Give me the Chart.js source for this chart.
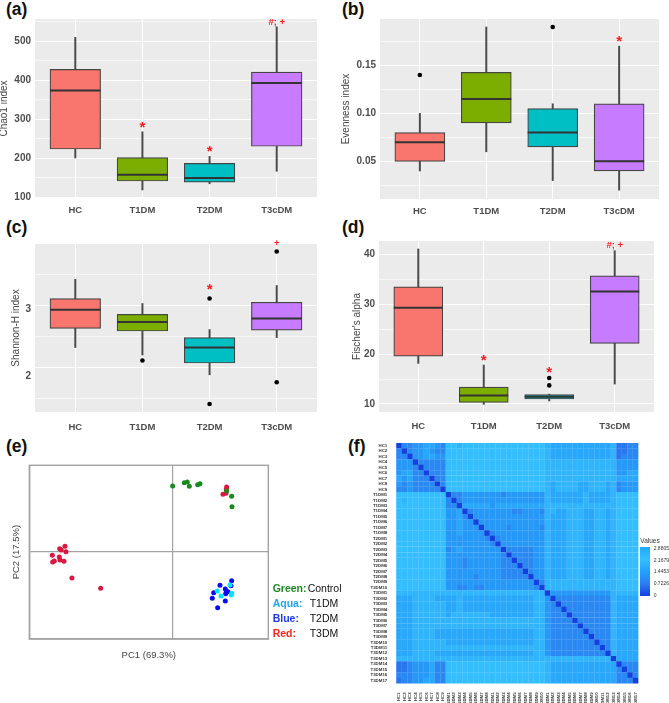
<!DOCTYPE html>
<html>
<head>
<meta charset="utf-8">
<title>Alpha diversity, PCoA and distance heatmap</title>
<script src="https://cdn.jsdelivr.net/npm/chart.js@4"></script>
<style>
  html, body { margin: 0; padding: 0; background: #fff; }
  body { position: relative; width: 669px; height: 703px; overflow: hidden; font-family: "Liberation Sans", Arial, sans-serif; filter: blur(0.3px); }
  .holder { position: absolute; }
  .letter { position: absolute; font-weight: bold; font-size: 17.5px; line-height: 20px; color: #111; }
  .key { position: absolute; font-size: 10.5px; line-height: 12px; color: #111; white-space: nowrap; }
  .key b { position: absolute; left: 0; top: 0; }
  .bar-label { position: absolute; left: 653.7px; font-size: 5px; line-height: 6px; color: #333; }
</style>
</head>
<body>
<div class="letter" style="left:6px;top:-1px">(a)</div>
<div class="letter" style="left:342px;top:-1px">(b)</div>
<div class="letter" style="left:6px;top:217px">(c)</div>
<div class="letter" style="left:342px;top:217px">(d)</div>
<div class="letter" style="left:6px;top:436px">(e)</div>
<div class="letter" style="left:348px;top:436px">(f)</div>

<div class="holder" style="left:0;top:9px;width:335px;height:212px"><canvas id="chartA"></canvas></div>
<div class="holder" style="left:335px;top:9px;width:334px;height:212px"><canvas id="chartB"></canvas></div>
<div class="holder" style="left:0;top:234px;width:335px;height:198px"><canvas id="chartC"></canvas></div>
<div class="holder" style="left:335px;top:231px;width:334px;height:201px"><canvas id="chartD"></canvas></div>
<div class="holder" style="left:0;top:455px;width:280px;height:210px"><canvas id="chartE"></canvas></div>
<div class="holder" style="left:350px;top:436px;width:296px;height:267px"><canvas id="chartF"></canvas></div>

<div class="key" style="left:272.7px;top:582px"><b style="color:#1a8a1f">Green:</b><span style="margin-left:35px">Control</span></div>
<div class="key" style="left:272.7px;top:597px"><b style="color:#1ea7f5">Aqua:</b><span style="margin-left:37px">T1DM</span></div>
<div class="key" style="left:272.7px;top:611.7px"><b style="color:#1b3bf0">Blue:</b><span style="margin-left:37px">T2DM</span></div>
<div class="key" style="left:272.7px;top:626.7px"><b style="color:#f02a1a">Red:</b><span style="margin-left:37px">T3DM</span></div>

<div style="position:absolute;left:640.3px;top:536.5px;font-size:6.5px;line-height:8px;color:#333">Values</div>
<div id="colorbar" style="position:absolute;left:640.3px;top:546.7px;width:10px;height:49.6px"></div>
<div class="bar-label" style="top:544.7px">2.8805</div>
<div class="bar-label" style="top:556.7px">2.1679</div>
<div class="bar-label" style="top:568.3px">1.4453</div>
<div class="bar-label" style="top:580px">0.7226</div>
<div class="bar-label" style="top:592px">0</div>

<script>
// Boxplot groups, shared by panels a-d
const groups = ['HC', 'T1DM', 'T2DM', 'T3cDM'];

// (a) Chao1
const chaoLow = [201, 119, 135, 167];
const chaoQ1 = [224, 142, 139, 231];
const chaoMed = [374, 158, 150, 393];
const chaoQ3 = [428, 202, 187, 421];
const chaoHigh = [510, 268, 205, 537];
const chaoTicks = [100, 150, 200, 250, 300, 350, 400, 450, 500, 550];
const chaoLabels = [100, 200, 300, 400, 500];

// (b) Evenness
const evenLow = [0.04, 0.06, 0.03, 0.02];
const evenQ1 = [0.05, 0.09, 0.065, 0.04];
const evenMed = [0.07, 0.115, 0.08, 0.05];
const evenQ3 = [0.08, 0.1427, 0.105, 0.11];
const evenHigh = [0.10, 0.19, 0.11, 0.17];
const evenOutX = [1, 3];
const evenOutY = [0.14, 0.19];
const evenTicks = [0.025, 0.05, 0.075, 0.10, 0.125, 0.15, 0.175];
const evenLabels = [0.05, 0.10, 0.15];

// (c) Shannon-H
const shanLow = [2.32, 2.20, 1.88, 2.48];
const shanQ1 = [2.63, 2.586, 2.07, 2.60];
const shanMed = [2.93, 2.73, 2.32, 2.79];
const shanQ3 = [3.11, 2.855, 2.48, 3.05];
const shanHigh = [3.42, 3.03, 2.61, 3.32];
const shanOutX = [2, 3, 3, 4, 4];
const shanOutY = [2.11, 3.11, 1.41, 3.87, 1.76];
const shanTicks = [1.5, 2, 2.5, 3, 3.5];
const shanLabels = [2, 3];

// (d) Fischer's alpha
const fishLow = [18.13, 9.93, 10.6, 14];
const fishQ1 = [19.6, 10.33, 11, 22.13];
const fishMed = [29.27, 11.73, 11.47, 32.53];
const fishQ3 = [33.47, 13.4, 11.87, 35.67];
const fishHigh = [41.07, 17.8, 12, 40.73];
const fishOutX = [3, 3];
const fishOutY = [15.2, 13.73];
const fishTicks = [10, 15, 20, 25, 30, 35, 40];
const fishLabels = [10, 20, 30, 40];

const boxColors = ['#f8766d', '#7cae00', '#00bfc4', '#c77cff'];

// red significance marks: x group, y value, text
const chaoMarks = [[2, 286, '*'], [3, 225, '*'], [4, 548.6, '#; +']];
const evenMarks = [[4, 0.178, '*']];
const shanMarks = [[3, 3.30, '*'], [4, 3.995, '+']];
const fishMarks = [[2, 19.27, '*'], [3, 16.87, '*'], [4, 41.73, '#; +']];

// (e) PCoA scores
const controlX = [0, 0.35, 0.44, 0.50, 0.75, 0.82, 1.77, 1.78, 1.62];
const controlY = [1.98, 2.08, 2.10, 1.97, 2.02, 2.05, 1.67, 1.36, 1.83];
const t1dmX = [1.34, 1.45, 1.77, 1.76, 1.72];
const t1dmY = [-1.17, -1.32, -1.24, -1.29, -0.99];
const t2dmX = [1.77, 1.42, 1.75, 1.58, 1.23, 1.62, 1.66, 1.59, 1.19, 1.58, 1.35];
const t2dmY = [-0.86, -1.00, -1.01, -1.11, -1.22, -1.19, -1.19, -1.25, -1.39, -1.47, -1.67];
const t3dmX = [1.62, 1.61, 1.51, 1.60, -3.23, -3.39, -3.34, -3.20, -3.61, -3.40, -3.38, -3.55, -3.60, -3.26, -3.02, -2.16];
const t3dmY = [1.95, 1.88, 1.73, 1.76, 0.17, 0.10, 0.06, 0.01, -0.10, -0.15, -0.24, -0.27, -0.30, -0.28, -0.78, -1.09];

// (f) distance matrix, one digit per cell in steps of heatStep
const heatNames = ['HC1','HC2','HC3','HC4','HC5','HC6','HC7','HC8','HC9',
  'T1DM1','T1DM2','T1DM3','T1DM4','T1DM5','T1DM6','T1DM7','T1DM8',
  'T2DM1','T2DM2','T2DM3','T2DM4','T2DM5','T2DM6','T2DM7','T2DM8','T2DM9','T2DM10',
  'T3DM1','T3DM2','T3DM3','T3DM4','T3DM5','T3DM6','T3DM7','T3DM8','T3DM9','T3DM10','T3DM11','T3DM12','T3DM13','T3DM14','T3DM15','T3DM16','T3DM17'];
const heatStep = 0.32;
const heatRows = [
  '033 445 543 77677777 7777777777 6 55555555555 6 2233',
  '303 445 433 77777777 7777777777 6 55555555555 6 2233',
  '330 445 544 77777777 7777777777 6 55555555555 6 2333',
  '444 033 333 77777777 7777777777 6 66666666666 6 4444',
  '444 303 333 77777777 7777777777 6 66666666666 6 4444',
  '455 330 333 77777777 7777777777 6 66666666666 6 4455',
  '545 333 033 77777777 7777777777 6 66666666666 6 5555',
  '434 333 303 77777777 7777777777 6 56666556665 6 3444',
  '334 333 330 77777777 7777777777 6 56666556665 6 3444',
  '777 777 777 03344444 4434444444 6 55555565555 6 7777',
  '767 777 777 30344444 4444444444 6 55555565555 6 7777',
  '777 777 777 33055555 4555555555 6 66666666666 6 7777',
  '777 777 777 44503444 4444334443 6 65566655665 6 7777',
  '777 777 777 44530444 4444444444 6 55566655665 6 7777',
  '777 777 777 44544044 4444444444 6 55566655665 6 7777',
  '777 777 777 44544404 4443444443 6 55566655665 6 7777',
  '777 777 777 44544440 3444444444 6 55566655665 6 7777',
  '777 777 777 44444443 0344444444 6 55566655665 6 7777',
  '777 777 777 44444444 3044444444 6 55566655665 6 7777',
  '777 777 777 34544444 4403333344 6 55566655665 6 7777',
  '777 777 777 44444444 4430333344 6 55566655665 6 7777',
  '777 777 777 44434444 4433033344 6 55566655665 6 7777',
  '777 777 777 44434444 4433303344 6 55566655665 6 7777',
  '777 777 777 44444444 4433330344 6 55566655665 6 7777',
  '777 777 777 44444344 4433333044 6 55566655665 6 7777',
  '777 777 777 44444444 4444444403 6 66666666666 6 7777',
  '777 777 777 44334334 4444444430 6 66666666666 6 7777',
  '666 666 666 66666666 6666666666 0 44444444444 6 6666',
  '555 666 655 55655555 5555555566 4 03333333333 6 5555',
  '555 666 666 55655555 5555555566 4 30333333333 6 5555',
  '555 666 666 55655555 5555555566 4 33033333333 6 5555',
  '555 666 666 56666666 5555555566 4 33303333333 6 5555',
  '555 666 666 66666666 6666666666 4 33330333333 6 5555',
  '555 666 666 66666666 6666666666 4 33333033333 6 5555',
  '555 666 655 55555555 5555555566 4 33333303333 6 5555',
  '555 666 655 55555555 5555555566 4 33333330333 6 5555',
  '555 666 666 55555555 5555555566 4 33333333033 6 5555',
  '555 666 666 66666666 6666666666 4 33333333303 6 5555',
  '555 666 655 55555555 5555555566 4 33333333330 6 5555',
  '666 666 666 66666666 6666666666 6 66666666666 0 5555',
  '223 444 533 77777777 7777777777 6 55555555555 5 0333',
  '223 444 533 77777777 7777777777 6 55555555555 5 3033',
  '333 444 533 77777777 7777777777 6 55555555555 5 3303',
  '233 445 533 77777777 7777777777 6 55555555555 5 3330'
];

// colour stops from the legend bar, top value last
const heatStopValues = [0, 0.7226, 1.4453, 2.1679, 2.8805];
const heatStopColors = [[20, 64, 224], [45, 125, 240], [36, 160, 250], [54, 192, 255], [31, 168, 255]];

function heatColor(v) {
  let i = 0;
  while (i < heatStopValues.length - 2 && v > heatStopValues[i + 1]) i++;
  const t = (v - heatStopValues[i]) / (heatStopValues[i + 1] - heatStopValues[i]);
  const a = heatStopColors[i], b = heatStopColors[i + 1];
  const c = a.map((n, k) => Math.round(n + (b[k] - n) * t));
  return `rgb(${c[0]},${c[1]},${c[2]})`;
}

document.getElementById('colorbar').style.background = 'linear-gradient(to top,' +
  heatStopValues.map((v, i) => `rgb(${heatStopColors[i].join(',')}) ${v / 2.8805 * 100}%`).join(',') + ')';

// grey panel behind the plot and red text marks on top of it
const panelPlugin = {
  id: 'panel',
  beforeDraw(chart, args, opts) {
    if (!opts.fill) return;
    const a = chart.chartArea, ctx = chart.ctx;
    ctx.save();
    ctx.fillStyle = opts.fill;
    ctx.fillRect(a.left, a.top, a.width, a.height);
    ctx.restore();
  },
  afterDatasetsDraw(chart, args, opts) {
    if (!opts.marks) return;
    const ctx = chart.ctx;
    ctx.save();
    ctx.fillStyle = '#ff1a1a';
    ctx.textAlign = 'center';
    ctx.textBaseline = 'middle';
    opts.marks.forEach(([x, y, text]) => {
      const star = text === '*';
      ctx.font = star ? 'bold 15px "Liberation Sans"' : 'bold 9.5px "Liberation Sans"';
      ctx.fillText(text, chart.scales.x.getPixelForValue(x), chart.scales.y.getPixelForValue(y) + (star ? 3 : 0));
    });
    ctx.restore();
  }
};
Chart.register(panelPlugin);

// cfg: id, series arrays, outliers, y range and ticks, panel geometry in px
function boxChart(cfg) {
  const xs = groups.map((g, i) => i + 1);
  const pts = (ys) => xs.map((x, i) => ({ x, y: ys[i] }));
  const ranges = (lo, hi) => xs.map((x, i) => ({ x, y: [lo[i], hi[i]] }));
  const datasets = [
    { type: 'bar', data: ranges(cfg.low, cfg.high), backgroundColor: '#4a4a4a', barThickness: 1.3, grouped: false, order: 4 },
    { type: 'bar', data: ranges(cfg.q1, cfg.q3), backgroundColor: boxColors, borderColor: '#454545', borderWidth: 1.2, borderSkipped: false, barThickness: cfg.boxWidth, grouped: false, order: 3 },
    { type: 'scatter', data: pts(cfg.med), pointStyle: 'line', pointRadius: cfg.boxWidth / 2, borderColor: '#333', borderWidth: 2, order: 2 }
  ];
  if (cfg.outX) {
    datasets.push({ type: 'scatter', data: cfg.outX.map((x, i) => ({ x, y: cfg.outY[i] })), pointRadius: 2.3, backgroundColor: '#000', borderWidth: 0, order: 1 });
  }

  const tickLabels = {
    callback: (v) => cfg.labels.includes(v) ? cfg.fmt(v) : '',
    color: '#4d4d4d',
    font: { family: 'Liberation Sans', weight: 'bold', size: 10 },
    padding: 4,
    autoSkip: false
  };
  const yTitle = { display: true, text: cfg.title, color: '#454545', font: { family: 'Liberation Sans', size: 10 }, padding: { top: cfg.titlePad, bottom: 0 } };
  const labelsShifted = !!cfg.labelRange;

  const scales = {
    x: {
      type: 'linear',
      offset: false,
      min: 0.4,
      max: 4.6,
      afterBuildTicks: (s) => { s.ticks = xs.map((v) => ({ value: v })); },
      afterFit: (s) => { s.height = cfg.xHeight; },
      grid: { offset: false, color: '#fff', lineWidth: 1, drawTicks: false },
      border: { display: false },
      ticks: { callback: (v) => groups[v - 1], color: '#4d4d4d', font: { family: 'Liberation Sans', weight: 'bold', size: 9.5 }, padding: cfg.xPad, maxRotation: 0, autoSkip: false }
    },
    y: {
      min: cfg.yMin,
      max: cfg.yMax,
      afterBuildTicks: (s) => { s.ticks = cfg.ticks.map((v) => ({ value: v })); },
      afterFit: (s) => { s.width = labelsShifted ? 0 : cfg.yWidth; },
      grid: {
        color: '#fff',
        lineWidth: (c) => cfg.labels.includes(c.tick.value) ? 1.1 : 0.6,
        drawTicks: false
      },
      border: { display: false },
      title: labelsShifted ? { display: false } : yTitle,
      ticks: labelsShifted ? { display: false } : tickLabels
    }
  };
  // panel c: its tick labels sit lower than its grid lines, so they get an axis of their own
  if (labelsShifted) {
    scales.yLabels = {
      type: 'linear',
      position: 'left',
      min: cfg.labelRange[0],
      max: cfg.labelRange[1],
      afterBuildTicks: (s) => { s.ticks = cfg.labels.map((v) => ({ value: v })); },
      afterFit: (s) => { s.width = cfg.yWidth; },
      grid: { display: false, drawTicks: false },
      border: { display: false },
      title: yTitle,
      ticks: tickLabels
    };
  }

  return new Chart(document.getElementById(cfg.id), {
    data: { datasets },
    options: {
      responsive: true,
      maintainAspectRatio: false,
      animation: false,
      // median "points" are half a box wide, autoPadding would shrink the panel for them
      layout: { autoPadding: false, padding: { top: cfg.padTop, right: cfg.padRight } },
      plugins: { legend: { display: false }, tooltip: { enabled: false }, panel: { fill: '#ebebeb', marks: cfg.marks } },
      scales
    }
  });
}

boxChart({
  id: 'chartA', low: chaoLow, q1: chaoQ1, med: chaoMed, q3: chaoQ3, high: chaoHigh, marks: chaoMarks,
  ticks: chaoTicks, labels: chaoLabels, fmt: (v) => String(v), title: 'Chao1 index',
  yMin: 98.5, yMax: 557, boxWidth: 50.6, yWidth: 35, xHeight: 23, xPad: 7, padTop: 10, padRight: 18, titlePad: -1.5
});
boxChart({
  id: 'chartB', low: evenLow, q1: evenQ1, med: evenMed, q3: evenQ3, high: evenHigh, outX: evenOutX, outY: evenOutY, marks: evenMarks,
  ticks: evenTicks, labels: evenLabels, fmt: (v) => v.toFixed(2), title: 'Evenness index',
  yMin: 0.0108, yMax: 0.1983, boxWidth: 50, yWidth: 45, xHeight: 22, xPad: 7, padTop: 10, padRight: 10, titlePad: 5.7
});
boxChart({
  id: 'chartC', low: shanLow, q1: shanQ1, med: shanMed, q3: shanQ3, high: shanHigh, outX: shanOutX, outY: shanOutY, marks: shanMarks,
  ticks: shanTicks, labels: shanLabels, fmt: (v) => String(v), title: 'Shannon-H index',
  yMin: 1.28, yMax: 3.99, labelRange: [1.472, 3.964], boxWidth: 50.6, yWidth: 35, xHeight: 20, xPad: 10, padTop: 10, padRight: 18, titlePad: 10.7
});
boxChart({
  id: 'chartD', low: fishLow, q1: fishQ1, med: fishMed, q3: fishQ3, high: fishHigh, outX: fishOutX, outY: fishOutY, marks: fishMarks,
  ticks: fishTicks, labels: fishLabels, fmt: (v) => String(v), title: "Fischer's alpha",
  yMin: 8.4, yMax: 42.67, boxWidth: 49, yWidth: 44, xHeight: 20, xPad: 9, padTop: 10, padRight: 15, titlePad: 16.3
});

// (e) PCoA scatter
const scatterSets = [
  [controlX, controlY, '#1a8a1f'],
  [t1dmX, t1dmY, '#00e5ff'],
  [t2dmX, t2dmY, '#0a0af0'],
  [t3dmX, t3dmY, '#dc1740']
];
new Chart(document.getElementById('chartE'), {
  type: 'scatter',
  data: {
    datasets: scatterSets.map(([xs, ys, color]) => ({
      data: xs.map((x, i) => ({ x, y: ys[i] })), backgroundColor: color, pointRadius: 2.5, borderWidth: 0
    }))
  },
  options: {
    responsive: true,
    maintainAspectRatio: false,
    animation: false,
    layout: { padding: { top: 10.3, right: 11.7 } },
    plugins: { legend: { display: false }, tooltip: { enabled: false } },
    scales: {
      x: {
        min: -4.3, max: 2.87,
        afterBuildTicks: (s) => { s.ticks = [{ value: 0 }]; },
        afterFit: (s) => { s.height = 26; },
        grid: { color: '#a3a3a3', lineWidth: 1.2, drawTicks: false },
        border: { color: '#a3a3a3', width: 1.4 },
        ticks: { display: false },
        title: { display: true, text: 'PC1 (69.3%)', color: '#444', font: { family: 'Liberation Sans', size: 9.5 }, padding: { top: 7 } }
      },
      y: {
        min: -2.61, max: 2.6,
        afterBuildTicks: (s) => { s.ticks = [{ value: 0 }]; },
        afterFit: (s) => { s.width = 29.3; },
        grid: { color: '#a3a3a3', lineWidth: 1.2, drawTicks: false },
        border: { color: '#a3a3a3', width: 1.4 },
        ticks: { display: false },
        title: { display: true, text: 'PC2 (17.5%)', color: '#444', font: { family: 'Liberation Sans', size: 9.5 }, padding: { top: 11, bottom: 0 } }
      }
    }
  },
  plugins: [{
    id: 'frame',
    afterDraw(chart) {
      const a = chart.chartArea, ctx = chart.ctx;
      ctx.save();
      ctx.strokeStyle = '#a3a3a3';
      ctx.lineWidth = 1.4;
      ctx.strokeRect(a.left, a.top, a.width, a.height);
      ctx.restore();
    }
  }]
});

// (f) heatmap, square points on two category axes
const heatCells = [];
heatRows.forEach((row, r) => {
  row.replace(/ /g, '').split('').forEach((d, c) => {
    heatCells.push({ x: heatNames[c], y: heatNames[r], v: Number(d) * heatStep });
  });
});
const heatLabelFont = { family: 'Liberation Sans', weight: 'bold', size: 4.4 };
new Chart(document.getElementById('chartF'), {
  type: 'scatter',
  data: {
    datasets: [{
      data: heatCells,
      pointStyle: 'rect',
      pointRadius: 4.0,
      borderWidth: 0,
      backgroundColor: (c) => c.raw ? heatColor(c.raw.v) : '#000'
    }]
  },
  options: {
    responsive: true,
    maintainAspectRatio: false,
    animation: false,
    layout: { autoPadding: false, padding: { top: 7, right: 7.7 } },
    plugins: { legend: { display: false }, tooltip: { enabled: false } },
    scales: {
      x: {
        type: 'category',
        labels: heatNames,
        offset: true,
        afterFit: (s) => { s.height = 19.7; },
        grid: { display: false },
        border: { display: false },
        ticks: { autoSkip: false, minRotation: 90, maxRotation: 90, padding: 1, color: '#333', font: heatLabelFont }
      },
      y: {
        type: 'category',
        labels: heatNames,
        offset: true,
        afterFit: (s) => { s.width = 46.3; },
        grid: { display: false },
        border: { display: false },
        ticks: { autoSkip: false, padding: 1, color: '#333', font: heatLabelFont }
      }
    }
  }
});
</script>
</body>
</html>
